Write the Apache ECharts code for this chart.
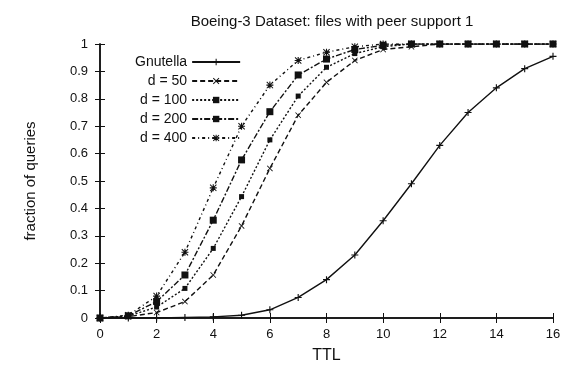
<!DOCTYPE html>
<html>
<head>
<meta charset="utf-8">
<script src="https://cdn.jsdelivr.net/npm/echarts@6/dist/echarts.min.js"></script>
<style>
  html, body { margin: 0; padding: 0; background: #fff; }
  #chart { width: 574px; height: 374px; }
</style>
</head>
<body>
<div id="chart"></div>
<script>
// TTL values on the x axis
const ttl = [0, 1, 2, 3, 4, 5, 6, 7, 8, 9, 10, 11, 12, 13, 14, 15, 16];

// fraction of queries answered
const gnutella = [0, 0, 0, 0.002, 0.004, 0.01, 0.03, 0.075, 0.14, 0.23, 0.355, 0.49, 0.63, 0.75, 0.84, 0.91, 0.955];
const d50 = [0, 0.005, 0.02, 0.06, 0.157, 0.336, 0.546, 0.74, 0.86, 0.94, 0.98, 0.99, 1, 1, 1, 1, 1];
const d100 = [0, 0.007, 0.04, 0.108, 0.254, 0.443, 0.65, 0.81, 0.915, 0.965, 0.99, 1, 1, 1, 1, 1, 1];
const d200 = [0, 0.008, 0.06, 0.157, 0.357, 0.577, 0.753, 0.887, 0.945, 0.98, 0.995, 1, 1, 1, 1, 1, 1];
const d400 = [0, 0.01, 0.08, 0.24, 0.475, 0.70, 0.85, 0.94, 0.97, 0.99, 1, 1, 1, 1, 1, 1, 1];

const seriesNames = ["Gnutella", "d = 50", "d = 100", "d = 200", "d = 400"];
const yTicks = [0, 0.1, 0.2, 0.3, 0.4, 0.5, 0.6, 0.7, 0.8, 0.9, 1];

const plusPath = "path://M0.42,0H0.58V1H0.42ZM0,0.42H1V0.58H0Z";
const crossPath = "path://M0.1,0L0.5,0.4L0.9,0L1,0.1L0.6,0.5L1,0.9L0.9,1L0.5,0.6L0.1,1L0,0.9L0.4,0.5L0,0.1Z";
const starPath = "path://M0.42,0H0.58V1H0.42ZM0,0.42H1V0.58H0ZM0.1,0L0.5,0.4L0.9,0L1,0.1L0.6,0.5L1,0.9L0.9,1L0.5,0.6L0.1,1L0,0.9L0.4,0.5L0,0.1Z";

const font = "'Liberation Sans', Arial, sans-serif";

function line(name, values, symbol, size, type) {
  return {
    name,
    type: "line",
    data: ttl.map((t, i) => [t, values[i]]),
    symbol,
    symbolSize: size,
    showAllSymbol: true,
    color: "#111",
    lineStyle: { color: "#111", width: 1.4, type },
    itemStyle: { color: "#111" },
    animation: false,
  };
}

const chart = echarts.init(document.getElementById("chart"));
chart.setOption({
  backgroundColor: "#fff",
  animation: false,
  title: {
    text: "Boeing-3 Dataset: files with peer support 1",
    left: 327,
    top: 9,
    textAlign: "center",
    textStyle: { fontFamily: font, fontSize: 15, fontWeight: "normal", color: "#111" },
  },
  grid: { left: 100, right: 21, top: 44, bottom: 56 },
  legend: {
    orient: "vertical",
    left: 130,
    top: 50,
    align: "right",
    itemWidth: 48,
    itemHeight: 8,
    itemGap: 5,
    textStyle: { fontFamily: font, fontSize: 14, color: "#111" },
    data: seriesNames,
  },
  xAxis: [
    {
      type: "value",
      min: 0,
      max: 16,
      interval: 2,
      name: "TTL",
      nameLocation: "middle",
      nameGap: 30,
      nameTextStyle: { fontFamily: font, fontSize: 16, color: "#111" },
      axisLine: { lineStyle: { color: "#111", width: 1.5 } },
      axisTick: { inside: true, length: 5, lineStyle: { color: "#111" } },
      axisLabel: { fontFamily: font, fontSize: 13, color: "#111", margin: 10 },
      splitLine: { show: false },
    },
    {
      type: "value",
      position: "top",
      min: 0,
      max: 16,
      interval: 2,
      axisLine: { lineStyle: { color: "#111", width: 1.5 } },
      axisTick: { inside: true, length: 5, lineStyle: { color: "#111" } },
      axisLabel: { show: false },
      splitLine: { show: false },
    },
  ],
  yAxis: [
    {
      type: "value",
      min: 0,
      max: 1,
      interval: 0.1,
      name: "fraction of queries",
      nameLocation: "middle",
      nameGap: 62,
      nameTextStyle: { fontFamily: font, fontSize: 15, color: "#111" },
      axisLine: { show: true, lineStyle: { color: "#111", width: 1.5 } },
      axisTick: { show: true, inside: true, length: 5, lineStyle: { color: "#111" } },
      axisLabel: {
        fontFamily: font,
        fontSize: 13,
        color: "#111",
        margin: 12,
        formatter: (v) => {
          const hit = yTicks.find((t) => Math.abs(t - v) < 1e-6);
          return hit === undefined ? "" : String(hit);
        },
      },
      splitLine: { show: false },
    },
    {
      type: "value",
      position: "right",
      min: 0,
      max: 1,
      interval: 0.1,
      axisLine: { show: true, lineStyle: { color: "#111", width: 1.5 } },
      axisTick: { show: true, inside: true, length: 5, lineStyle: { color: "#111" } },
      axisLabel: { show: false },
      splitLine: { show: false },
    },
  ],
  series: [
    line(seriesNames[0], gnutella, plusPath, 7, "solid"),
    line(seriesNames[1], d50, crossPath, 6, [5, 3]),
    line(seriesNames[2], d100, "rect", 5, [2, 2]),
    line(seriesNames[3], d200, "rect", 7, [6, 2, 2, 2]),
    line(seriesNames[4], d400, starPath, 7, [3, 3, 1, 3]),
  ],
});
</script>
</body>
</html>
